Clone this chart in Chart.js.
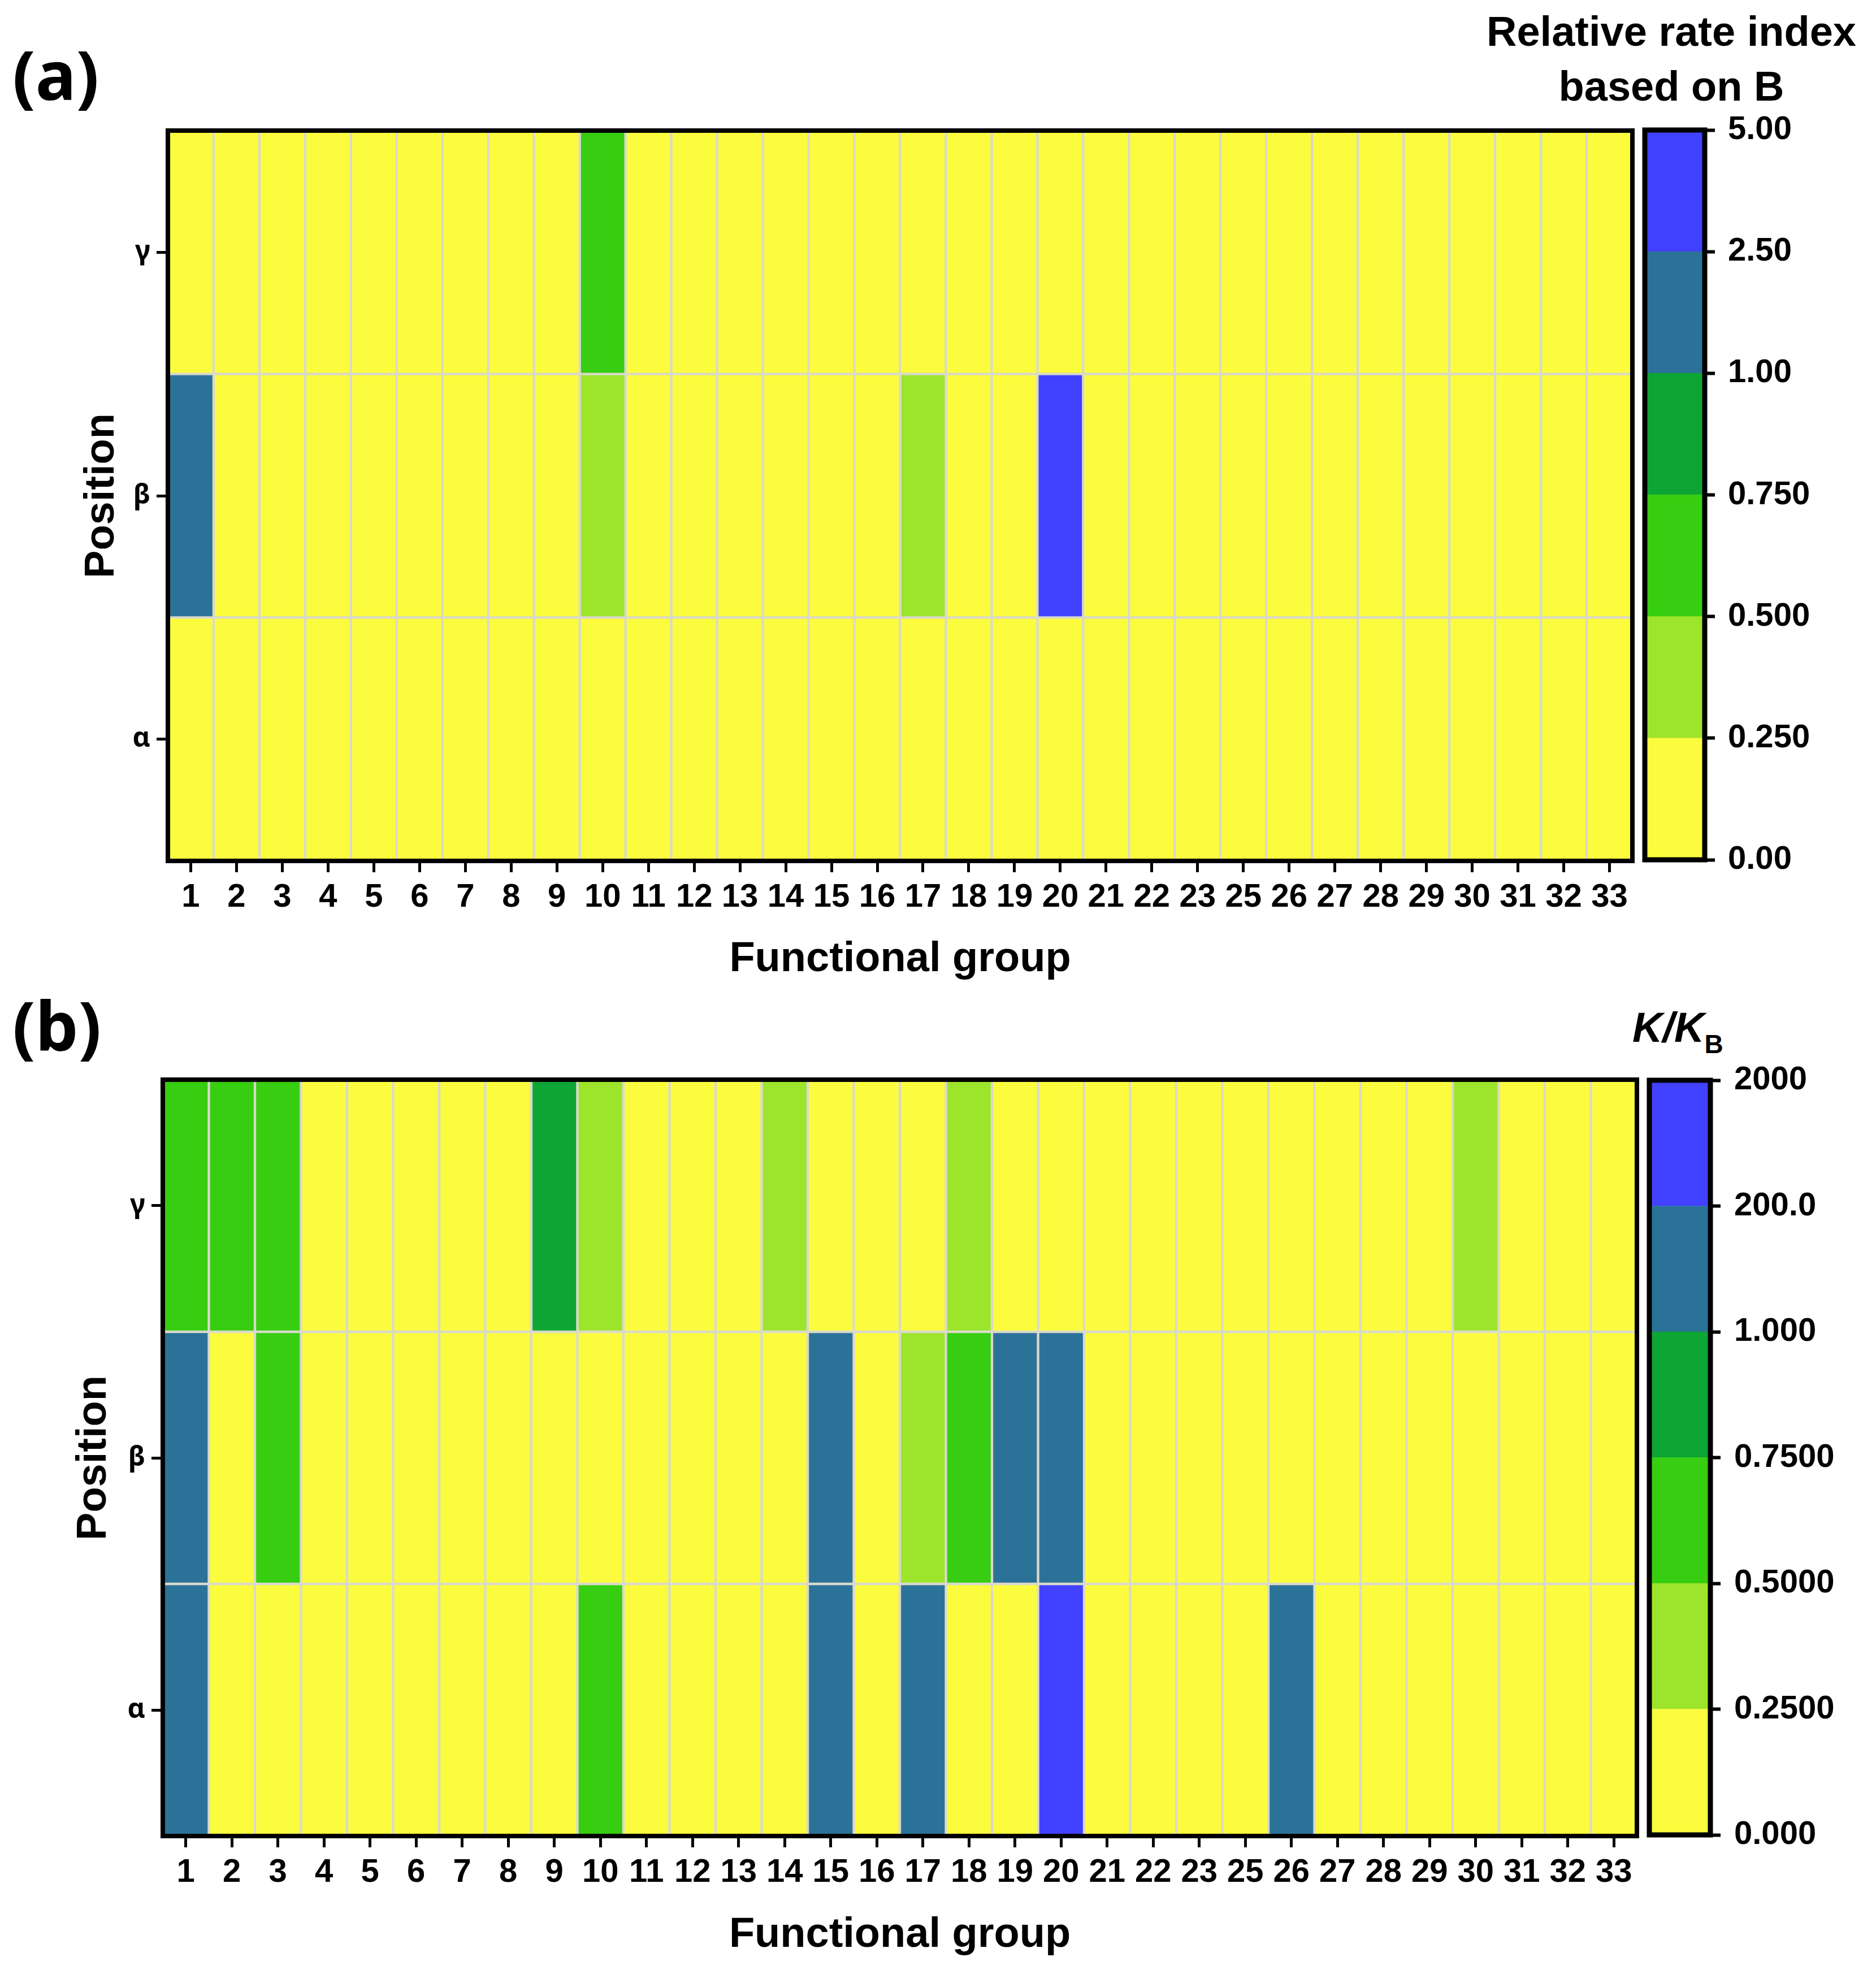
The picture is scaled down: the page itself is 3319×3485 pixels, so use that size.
<!DOCTYPE html>
<html><head><meta charset="utf-8">
<script src="https://cdn.jsdelivr.net/npm/chart.js@4.4.1/dist/chart.umd.min.js"></script>
<style>
html,body{margin:0;padding:0;background:#fff;}
body{width:3319px;height:3485px;position:relative;overflow:hidden;}
canvas{position:absolute;}
.t{position:absolute;font-family:'Liberation Sans',Arial,sans-serif;font-weight:bold;color:#000;line-height:1;white-space:nowrap;}
</style></head><body>
<div class="t" style="left:22px;top:71px;font-family:'Noto Sans';font-size:120px;">(a)</div>
<div class="t" style="left:22px;top:1753px;font-family:'Noto Sans';font-size:120px;">(b)</div>
<div class="t" style="left:2557px;top:19px;width:800px;text-align:center;font-size:74px;">Relative rate index</div>
<div class="t" style="left:2557px;top:116px;width:800px;text-align:center;font-size:74px;">based on B</div>
<div class="t" style="left:2888px;top:1781px;font-size:74px;font-style:italic;">K/K<span style="font-size:46px;font-style:normal;position:relative;top:20px;">B</span></div>

<canvas id="heatA" width="2796" height="1560" style="left:132px;top:186px;"></canvas>
<canvas id="barA" width="400" height="1411" style="left:2880px;top:170px;"></canvas>
<canvas id="heatB" width="2818" height="1612" style="left:118px;top:1860px;"></canvas>
<canvas id="barB" width="420" height="1455" style="left:2888px;top:1851px;"></canvas>

<script>
// ---------- data ----------
const columns = ['1','2','3','4','5','6','7','8','9','10','11','12','13','14','15','16',
                 '17','18','19','20','21','22','23','25','26','27','28','29','30','31','32','33'];
const positions = ['α','β','γ']; // bottom to top

// (a) Relative rate index based on B
const rateAlpha = [0.10,0.10,0.10,0.10,0.10,0.10,0.10,0.10,
                   0.10,0.10,0.10,0.10,0.10,0.10,0.10,0.10,
                   0.10,0.10,0.10,0.10,0.10,0.10,0.10,0.10,
                   0.10,0.10,0.10,0.10,0.10,0.10,0.10,0.10];
const rateBeta  = [1.50,0.10,0.10,0.10,0.10,0.10,0.10,0.10,
                   0.10,0.35,0.10,0.10,0.10,0.10,0.10,0.10,
                   0.40,0.10,0.10,3.20,0.10,0.10,0.10,0.10,
                   0.10,0.10,0.10,0.10,0.10,0.10,0.10,0.10];
const rateGamma = [0.10,0.10,0.10,0.10,0.10,0.10,0.10,0.10,
                   0.10,0.60,0.10,0.10,0.10,0.10,0.10,0.10,
                   0.10,0.10,0.10,0.10,0.10,0.10,0.10,0.10,
                   0.10,0.10,0.10,0.10,0.10,0.10,0.10,0.10];

// (b) K/KB
const kAlpha = [30,0.10,0.10,0.10,0.10,0.10,0.10,0.10,
                0.10,0.60,0.10,0.10,0.10,0.10,15,0.10,
                8.0,0.10,0.10,500,0.10,0.10,0.10,0.10,
                3.0,0.10,0.10,0.10,0.10,0.10,0.10,0.10];
const kBeta  = [50,0.10,0.60,0.10,0.10,0.10,0.10,0.10,
                0.10,0.10,0.10,0.10,0.10,0.10,20,0.10,
                0.40,0.60,5.0,10,0.10,0.10,0.10,0.10,
                0.10,0.10,0.10,0.10,0.10,0.10,0.10,0.10];
const kGamma = [0.60,0.65,0.60,0.10,0.10,0.10,0.10,0.10,
                0.85,0.35,0.10,0.10,0.10,0.40,0.10,0.10,
                0.10,0.35,0.10,0.10,0.10,0.10,0.10,0.10,
                0.10,0.10,0.10,0.10,0.30,0.10,0.10,0.10];

const rateEdges = [0,0.25,0.5,0.75,1,2.5,5];
const kEdges    = [0,0.25,0.5,0.75,1,200,2000];
const rateTickLabels = ['0.00','0.250','0.500','0.750','1.00','2.50','5.00'];
const kTickLabels    = ['0.000','0.2500','0.5000','0.7500','1.000','200.0','2000'];
const binColors = ['#FCFC3E','#9CE52B','#37CD10','#0DA534','#2B7298','#4141FF'];

// ---------- helpers ----------
Chart.defaults.font.family = "'Liberation Sans', Arial, sans-serif";
Chart.defaults.color = '#000';

function colorFor(v, edges){
  for (let i = 0; i < edges.length - 1; i++) if (v < edges[i+1]) return binColors[i];
  return binColors[binColors.length - 1];
}
function framePlugin(w){
  return {id:'frame', afterDatasetsDraw(chart){
    const {ctx, chartArea:a} = chart;
    ctx.save(); ctx.lineWidth = w; ctx.strokeStyle = '#000';
    ctx.strokeRect(a.left, a.top, a.right - a.left, a.bottom - a.top);
    ctx.restore();
  }};
}
const titleFont = {family:"'Liberation Sans', Arial, sans-serif", size:74, weight:'bold'};

function makeHeatmap(id, rows, edges, pad, yW, xH){
  const datasets = rows.map((vals, r) => ({
    label: positions[r],
    data: columns.map((c, i) => ({x:c, y:[r, r+1], v:vals[i]})),
    backgroundColor: vals.map(v => colorFor(v, edges)),
    borderColor:'#D9D9CB', borderWidth:2.5, borderSkipped:false,
    grouped:false, barPercentage:1, categoryPercentage:1
  }));
  return new Chart(document.getElementById(id), {
    type:'bar',
    data:{labels:columns, datasets},
    plugins:[framePlugin(8)],
    options:{
      responsive:false, devicePixelRatio:1, animation:false, events:[],
      layout:{padding:pad},
      plugins:{legend:{display:false}, tooltip:{enabled:false}},
      scales:{
        x:{
          type:'category',
          grid:{display:true, drawOnChartArea:false, drawTicks:true, offset:false,
                tickLength:20, tickWidth:5, tickColor:'#000'},
          border:{display:false},
          ticks:{font:{size:58, weight:'bold'}, color:'#000', padding:10, autoSkip:false, maxRotation:0},
          title:{display:true, text:'Functional group', font:titleFont, color:'#000', padding:{top:4,bottom:4}},
          afterFit:s => { s.height = xH; }
        },
        y:{
          type:'linear', min:0, max:positions.length,
          afterBuildTicks:s => { s.ticks = positions.map((p, i) => ({value:i + 0.5})); },
          grid:{display:true, drawOnChartArea:false, drawTicks:true,
                tickLength:20, tickWidth:5, tickColor:'#000'},
          border:{display:false},
          ticks:{font:{family:"'Noto Sans', sans-serif", size:48, weight:'bold'}, color:'#000', padding:11,
                 callback:v => positions[Math.floor(v)]},
          title:{display:true, text:'Position', font:titleFont, color:'#000', padding:{top:4,bottom:4}},
          afterFit:s => { s.width = yW; }
        }
      }
    }
  });
}

function makeColorbar(id, tickLabels, pad, yW, tickPad){
  const datasets = binColors.map((col, i) => ({
    data:[{x:'cb', y:[i, i+1]}],
    backgroundColor:col, borderWidth:0,
    grouped:false, barPercentage:1, categoryPercentage:1
  }));
  return new Chart(document.getElementById(id), {
    type:'bar',
    data:{labels:['cb'], datasets},
    plugins:[framePlugin(9)],
    options:{
      responsive:false, devicePixelRatio:1, animation:false, events:[],
      layout:{padding:pad},
      plugins:{legend:{display:false}, tooltip:{enabled:false}},
      scales:{
        x:{display:false},
        y:{
          type:'linear', position:'right', min:0, max:tickLabels.length - 1,
          afterBuildTicks:s => { s.ticks = tickLabels.map((t, i) => ({value:i})); },
          grid:{display:true, drawOnChartArea:false, drawTicks:true,
                tickLength:18, tickWidth:6, tickColor:'#000'},
          border:{display:false},
          ticks:{font:{size:58, weight:'bold'}, color:'#000', padding:tickPad,
                 callback:v => tickLabels[v]},
          afterFit:s => { s.width = yW; }
        }
      }
    }
  });
}

makeHeatmap('heatA', [rateAlpha, rateBeta, rateGamma], rateEdges, {top:45,right:40,bottom:0,left:0}, 165, 223);
makeColorbar('barA', rateTickLabels, {top:60,right:0,bottom:60,left:30}, 264, 23);
makeHeatmap('heatB', [kAlpha, kBeta, kGamma], kEdges, {top:50,right:40,bottom:0,left:0}, 170, 224);
makeColorbar('barB', kTickLabels, {top:60,right:0,bottom:60,left:30}, 282, 24);
</script>
</body></html>
